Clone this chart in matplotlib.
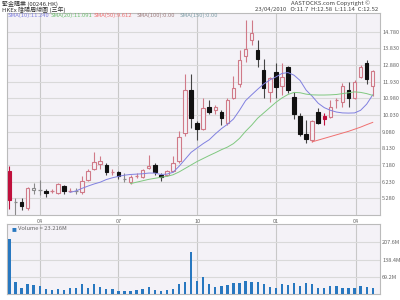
import numpy as np
import matplotlib
matplotlib.use("Agg")
import matplotlib.pyplot as plt

plt.rcParams['font.family'] = ['Noto Sans CJK TC', 'DejaVu Sans']

# weekly candles
opens = [6.855, 5.05, 5.05, 4.73, 5.73, 5.78, 5.72, 5.68, 5.59, 5.96,
         5.72, 5.71, 5.62, 6.30, 6.95, 7.25, 7.20, 6.80, 6.76, 6.38,
         6.19, 6.57, 6.50, 7.01, 7.20, 6.63, 6.63, 6.82, 7.38, 9.00,
         11.43, 9.60, 9.25, 10.48, 10.29, 10.20, 9.57, 11.00, 11.80, 13.41,
         14.31, 13.74, 12.60, 11.37, 12.47, 11.71, 12.79, 11.08, 10.00, 8.96,
         8.62, 10.20, 9.95, 9.91, 10.90, 10.80, 11.46, 10.99, 12.19, 13.02,
         11.70]
highs = [7.10, 5.30, 5.30, 5.95, 6.16, 6.34, 5.81, 5.81, 6.16, 6.05,
         5.85, 5.87, 6.57, 6.95, 7.90, 7.70, 7.29, 6.95, 6.82, 6.72,
         6.60, 6.70, 6.98, 7.76, 7.29, 6.72, 6.91, 7.67, 9.10, 12.37,
         12.37, 9.70, 10.99, 10.86, 10.62, 10.33, 11.00, 12.28, 13.74, 15.44,
         15.44, 14.31, 13.21, 12.22, 12.98, 13.02, 12.85, 11.37, 10.14, 9.75,
         9.75, 10.42, 10.14, 10.90, 10.99, 11.84, 11.94, 12.00, 12.88, 13.17,
         12.58]
lows = [4.65, 4.20, 4.60, 4.62, 5.55, 5.49, 5.36, 5.59, 5.55, 5.55,
        5.62, 5.55, 5.55, 6.25, 6.90, 6.95, 6.63, 6.60, 6.40, 6.20,
        6.12, 6.45, 6.45, 6.98, 6.60, 6.25, 6.55, 6.76, 7.29, 8.85,
        9.28, 8.62, 9.20, 10.10, 10.10, 9.48, 9.48, 10.92, 11.65, 13.07,
        14.02, 12.79, 10.99, 10.80, 10.99, 11.18, 11.30, 9.80, 8.85, 8.46,
        8.51, 9.52, 9.47, 9.85, 10.42, 10.48, 10.48, 10.95, 12.12, 11.80,
        11.14]
closes = [5.205, 5.05, 4.86, 5.87, 5.85, 5.78, 5.59, 5.68, 6.12, 5.72,
          5.72, 5.71, 6.29, 6.82, 7.33, 7.42, 6.78, 6.80, 6.53, 6.38,
          6.50, 6.57, 6.91, 7.10, 6.78, 6.50, 6.82, 7.29, 8.77, 11.43,
          9.85, 9.23, 10.42, 10.23, 10.46, 9.85, 10.86, 11.56, 13.17, 13.78,
          14.69, 13.21, 11.56, 12.13, 11.65, 12.19, 11.43, 10.08, 8.96, 8.66,
          9.67, 9.60, 9.80, 10.46, 10.90, 11.69, 10.99, 11.94, 12.74, 12.07,
          12.52]
volume = [221, 49, 25, 40, 37, 31, 21, 16, 20, 15,
          25, 25, 40, 25, 40, 27, 19, 19, 12, 13,
          13, 15, 21, 27, 15, 13, 15, 21, 40, 49,
          168, 53, 69, 40, 29, 33, 37, 44, 44, 53,
          47, 49, 41, 28, 25, 39, 36, 44, 32, 44,
          39, 24, 24, 31, 33, 25, 25, 25, 32, 29,
          26]

# moving averages as drawn (start index, values)
sma10_start = 10
sma10 = [5.62, 5.70, 5.85, 5.98, 6.10, 6.20, 6.35, 6.45, 6.53, 6.60,
         6.64, 6.66, 6.68, 6.72, 6.72, 6.64, 6.66, 6.76, 7.10, 7.50,
         7.90, 8.15, 8.40, 8.62, 8.95, 9.25, 9.50, 9.80, 10.30, 10.85,
         11.18, 11.50, 11.80, 12.03, 12.20, 12.40, 12.45, 12.30, 12.00, 11.45,
         11.10, 10.70, 10.45, 10.30, 10.20, 10.15, 10.14, 10.15, 10.30, 10.65,
         11.18]
sma20_start = 20
sma20 = [6.12, 6.20, 6.28, 6.36, 6.42, 6.48, 6.53, 6.62, 6.78, 6.98,
         7.18, 7.38, 7.55, 7.72, 7.88, 8.05, 8.20, 8.40, 8.70, 9.10,
         9.45, 9.85, 10.15, 10.45, 10.75, 11.00, 11.20, 11.32, 11.30, 11.22,
         11.18, 11.17, 11.17, 11.18, 11.20, 11.25, 11.30, 11.35, 11.32, 11.25,
         11.15]
sma50_start = 50
sma50 = [8.50, 8.60, 8.70, 8.80, 8.90, 9.00, 9.10, 9.22, 9.34, 9.48, 9.61]

price_ticks = [5.28, 6.23, 7.18, 8.13, 9.08, 10.03, 10.98, 11.93, 12.88, 13.83, 14.78]
vol_ticks = [69.2, 138.4, 207.6]
month_pos = [5, 18, 31, 44, 57.2]
month_labels = ['04', '07', '10', '01', '04']

bg = '#f4f2f7'
red_edge = '#d07a88'
red_fill = '#c0103c'
grey = '#8a8a8a'

fig = plt.figure(figsize=(4, 3), dpi=100)
ax = fig.add_axes([0.0175, 0.2833, 0.9325, 0.6733])
axv = fig.add_axes([0.0175, 0.02, 0.9325, 0.2333])

for a in (ax, axv):
    a.set_facecolor(bg)
    for s in a.spines.values():
        s.set_color('#bbbbbb')
        s.set_linewidth(0.8)
    a.yaxis.tick_right()
    a.tick_params(length=0, labelsize=4.0, labelcolor='#666666', pad=1.5)
    a.set_xlim(-0.4, 61.2)
    for m in month_pos:
        a.axvline(m, color='#c8c8c8', lw=0.8, zorder=0)

# candles
x = np.arange(len(closes))
for i in x:
    o, h, l, c = opens[i], highs[i], lows[i], closes[i]
    higher = i == 0 or c >= closes[i - 1]
    if c < o:
        face = red_fill if higher else '#111111'
        edge = face
        wick = red_fill if higher else '#444444'
    else:
        face = bg
        edge = red_edge if higher else grey
        wick = edge
    ax.vlines(i, l, h, color=wick, lw=0.8, zorder=2)
    if abs(c - o) < 1e-6:
        ax.hlines(c, i - 0.3, i + 0.3, color=wick, lw=0.9, zorder=3)
    else:
        ax.bar(i, abs(c - o), bottom=min(o, c), width=0.58, facecolor=face,
               edgecolor=edge, linewidth=0.8, zorder=3)

ax.plot(np.arange(sma10_start, sma10_start + len(sma10)), sma10, color='#8080e0', lw=0.7, zorder=4)
ax.plot(np.arange(sma20_start, sma20_start + len(sma20)), sma20, color='#80c880', lw=0.7, zorder=4)
ax.plot(np.arange(sma50_start, sma50_start + len(sma50)), sma50, color='#f07070', lw=0.7, zorder=4)

ax.set_ylim(4.328, 15.846)
ax.set_yticks(price_ticks)
ax.set_yticklabels(['%.3f' % t for t in price_ticks])
ax.grid(axis='y', color='#d9d9d9', lw=0.8)
ax.set_axisbelow(True)
ax.set_xticks(month_pos)
ax.set_xticklabels(month_labels)
ax.tick_params(axis='x', pad=3)

# legend texts
sma_labels = [('SMA(10):11.240', '#8080e0'), ('SMA(20):11.091', '#70c070'),
              ('SMA(50):9.612', '#f07070'), ('SMA(100):0.00', '#a08080'),
              ('SMA(150):0.00', '#80a0a8')]
for k, (t, col) in enumerate(sma_labels):
    fig.text((8 + 43 * k) / 400, 1 - 15.5 / 300, t, color=col, fontsize=4.2, va='center')

fig.text(2 / 400, 1 - 3.5 / 300, '緊金購業 (00246.HK)', fontsize=4.3, color='#333333', va='center')
fig.text(2 / 400, 1 - 9.8 / 300, 'HKEx 陰陽周線圖 (三年)', fontsize=4.3, color='#333333', va='center')
fig.text(370 / 400, 1 - 3.5 / 300, 'AASTOCKS.com Copyright ©', fontsize=4.3, color='#444444',
         va='center', ha='right')
fig.text(378 / 400, 1 - 9.5 / 300, '23/04/2010   O:11.7  H:12.58  L:11.14  C:12.52', fontsize=4.3,
         color='#444444', va='center', ha='right')

# volume
axv.bar(x, volume, width=0.38, color='#2878c0', zorder=3)
axv.set_ylim(0, 281)
axv.set_yticks(vol_ticks)
axv.set_yticklabels(['%.1fM' % v for v in vol_ticks])
axv.grid(axis='y', color='#d9d9d9', lw=0.8)
axv.set_axisbelow(True)
axv.set_xticks([])
axv.text(0.012, 0.96, '■', transform=axv.transAxes, color='#2878c0', fontsize=3.5, va='top')
axv.text(0.03, 0.965, 'Volume = 23.216M', transform=axv.transAxes, color='#666666', fontsize=4.2, va='top')

fig.savefig('out.png', dpi=100, facecolor='white')
